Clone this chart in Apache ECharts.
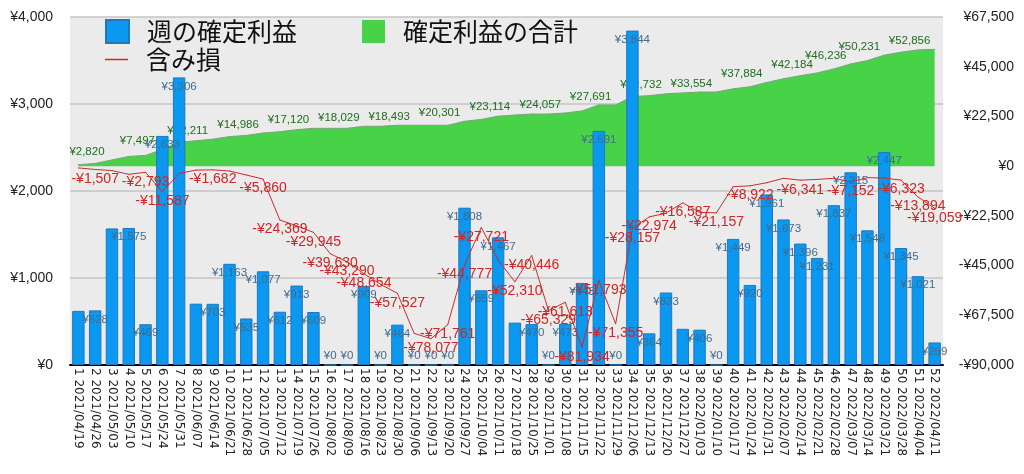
<!DOCTYPE html>
<html><head><meta charset="utf-8">
<script src="https://cdn.jsdelivr.net/npm/echarts@6/dist/echarts.min.js"></script>
<style>html,body{margin:0;padding:0;background:#fff}#c{width:1024px;height:474px}</style>
</head><body><div id="c"></div>
<script>
const weeks = ["1 2021/04/19","2 2021/04/26","3 2021/05/03","4 2021/05/10","5 2021/05/17","6 2021/05/24","7 2021/05/31","8 2021/06/07","9 2021/06/14","10 2021/06/21","11 2021/06/28","12 2021/07/05","13 2021/07/12","14 2021/07/19","15 2021/07/26","16 2021/08/02","17 2021/08/09","18 2021/08/16","19 2021/08/23","20 2021/08/30","21 2021/09/06","22 2021/09/13","23 2021/09/20","24 2021/09/27","25 2021/10/04","26 2021/10/11","27 2021/10/18","28 2021/10/25","29 2021/11/01","30 2021/11/08","31 2021/11/15","32 2021/11/22","33 2021/11/29","34 2021/12/06","35 2021/12/13","36 2021/12/20","37 2021/12/27","38 2022/01/03","39 2022/01/10","40 2022/01/17","41 2022/01/24","42 2022/01/31","43 2022/02/07","44 2022/02/14","45 2022/02/21","46 2022/02/28","47 2022/03/07","48 2022/03/14","49 2022/03/21","50 2022/03/28","51 2022/04/04","52 2022/04/11"];
const weeklyProfit = [622,628,1570,1575,469,2633,3306,705,703,1163,535,1077,612,913,609,0,0,909,0,464,0,0,0,1808,859,1467,487,470,0,473,943,2691,0,3844,364,833,416,406,0,1449,920,1961,1673,1396,1231,1837,2215,1548,2447,1345,1021,259];
const totalProfit = [622,1250,2820,4395,4864,7497,10803,11508,12211,13374,13909,14986,15598,16511,17120,17120,17120,18029,18029,18493,18493,18493,18493,20301,21160,22627,23114,23584,23584,24057,25000,27691,27691,31535,31899,32732,33148,33554,33554,35003,35923,37884,39557,40953,42184,44021,46236,47784,50231,51576,52597,52856];
const unrealizedLoss = [-800,-1507,-2000,-3700,-2793,-11587,-3300,-1800,-1682,-2200,-4000,-5860,-24369,-27000,-29945,-39630,-43290,-48654,-53500,-57527,-75700,-78077,-71761,-44777,-27721,-42500,-52310,-40446,-65329,-61613,-81934,-51793,-71355,-28157,-22974,-21300,-16587,-20900,-21157,-9300,-8922,-7500,-5500,-6341,-6000,-5500,-7152,-5200,-5400,-6323,-13894,-19059];
const barLabelHiddenWeeks = [1,3,8,27,37];
const totalLabelWeeks = [3,6,9,12,15,18,21,24,27,30,33,36,39,42,45,47,49,52];
const lossLabelWeeks = [2,5,6,9,12,13,15,16,17,18,20,22,23,24,25,27,28,29,30,31,32,33,34,35,37,39,41,44,47,50,51,52];
const leftTicks = {min:0, max:4000, interval:1000};
const rightTicks = {min:-90000, max:67500, interval:22500};

const yen = v => (v < 0 ? '-¥' : '¥') + Math.abs(v).toLocaleString('en-US');
const BLUE = '#0a98f0', GREEN = '#47d247', RED = '#cc2b2b';
const LAT = 'Liberation Sans';

const chart = echarts.init(document.getElementById('c'), null, {renderer:'canvas'});
const legendText = {fontSize:25, fontFamily:'Noto Sans CJK JP', color:'#111', padding:[0,0,0,13]};
chart.setOption({
  animation:false,
  backgroundColor:'#ffffff',
  grid:{left:70, right:81, top:17, bottom:109, show:true, backgroundColor:'#ebebeb', borderWidth:0},
  legend:[
    {data:[{name:'週の確定利益', icon:'rect'}], left:105, top:19, padding:0, itemWidth:23, itemHeight:23, textStyle:legendText, selectedMode:false},
    {data:[{name:'確定利益の合計', icon:'rect'}], left:362, top:19, padding:0, itemWidth:23, itemHeight:23, itemStyle:{color:GREEN, borderWidth:0}, textStyle:legendText, selectedMode:false},
    {data:[{name:'含み損', icon:'rect'}], left:105, top:47, padding:0, itemWidth:23, itemHeight:1.5, itemStyle:{color:RED, borderWidth:0, opacity:1}, lineStyle:{color:RED, opacity:1}, textStyle:legendText, selectedMode:false}
  ],
  xAxis:{type:'category', data:weeks, boundaryGap:true,
    axisLine:{show:true, lineStyle:{color:'#000', width:2}}, axisTick:{show:false},
    axisLabel:{rotate:-90, interval:0, margin:3, fontSize:12, fontFamily:'DejaVu Sans', color:'#222'}},
  yAxis:[
    {type:'value', position:'left', min:leftTicks.min, max:leftTicks.max, interval:leftTicks.interval,
     axisLine:{show:false}, axisTick:{show:false},
     axisLabel:{formatter:yen, margin:17, fontSize:14, fontFamily:LAT, color:'#222'},
     splitLine:{show:true, lineStyle:{color:'#c4c4c4', width:1.5}}},
    {type:'value', position:'right', min:rightTicks.min, max:rightTicks.max, interval:rightTicks.interval,
     axisLine:{show:false}, axisTick:{show:false}, splitLine:{show:false},
     axisLabel:{formatter:yen, margin:71, align:'right', fontSize:14, fontFamily:LAT, color:'#222'}}
  ],
  series:[
    {name:'確定利益の合計', type:'line', yAxisIndex:1, z:1,
     data: totalProfit.map((v,i)=>({value:v, label:{show: totalLabelWeeks.includes(i+1)}})),
     symbol:'circle', symbolSize:1, showSymbol:true,
     itemStyle:{color:GREEN},
     lineStyle:{color:'#7f9f7f', width:1},
     areaStyle:{color:GREEN, opacity:1},
     label:{position:'top', distance:2, offset:[-25,0], formatter:p=>yen(p.value), color:'#1f6e1f', fontSize:11.5, fontFamily:LAT}},
    {name:'週の確定利益', type:'bar', yAxisIndex:0, z:2, barWidth:'74%',
     data: weeklyProfit.map((v,i)=>({value:v, label:{show: !barLabelHiddenWeeks.includes(i+1), position: v===0 ? 'top' : 'insideTop'}})),
     itemStyle:{color:BLUE, borderColor:'#1f78be', borderWidth:1},
     label:{distance:3, formatter:p=>yen(p.value), color:'#3f6b8e', fontSize:11.5, fontFamily:LAT}},
    {name:'含み損', type:'line', yAxisIndex:1, z:3,
     data: unrealizedLoss.map((v,i)=>({value:v, label:{show: lossLabelWeeks.includes(i+1)}})),
     symbol:'circle', symbolSize:1, showSymbol:true,
     itemStyle:{color:RED}, lineStyle:{color:RED, width:1},
     label:{position:'bottom', distance:2, formatter:p=>yen(p.value), color:'#d12424', fontSize:14, fontFamily:LAT}}
  ]
});
</script></body></html>
